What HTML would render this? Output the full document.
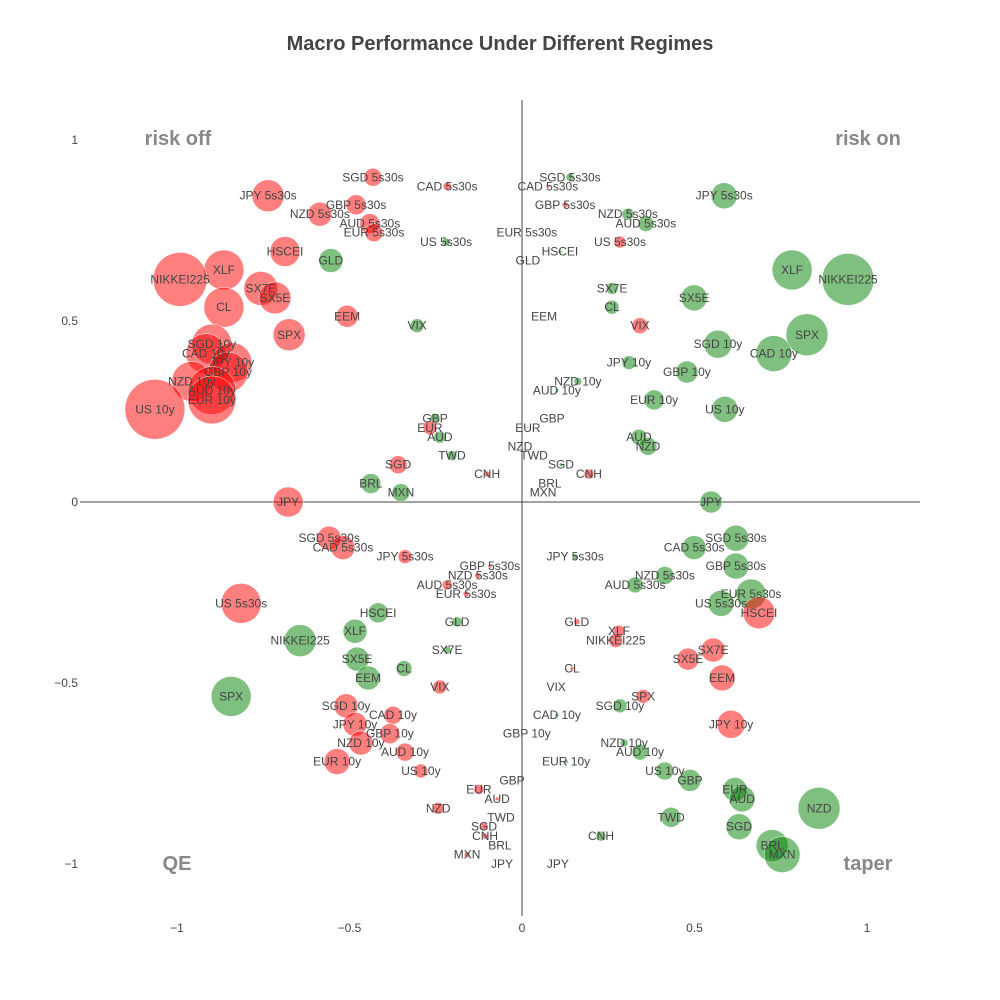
<!DOCTYPE html>
<html><head><meta charset="utf-8"><style>
body{margin:0;background:#fff}
svg{display:block;font-family:"Liberation Sans",sans-serif}
</style></head><body>
<svg id="chart" width="1000" height="1000" viewBox="0 0 1000 1000">
<rect width="1000" height="1000" fill="#fff"/>
<text x="500" y="50" text-anchor="middle" font-size="20" font-weight="bold" fill="#444">Macro Performance Under Different Regimes</text>
<g id="axes"></g>
<g id="marks"></g>
<g id="labels"></g>
<text x="178" y="145" text-anchor="middle" font-size="20" font-weight="bold" fill="#888">risk off</text>
<text x="868" y="145" text-anchor="middle" font-size="20" font-weight="bold" fill="#888">risk on</text>
<text x="177" y="870" text-anchor="middle" font-size="20" font-weight="bold" fill="#888">QE</text>
<text x="868" y="870" text-anchor="middle" font-size="20" font-weight="bold" fill="#888">taper</text>
</svg>
<script>
const labels=["SGD 5s30s","CAD 5s30s","JPY 5s30s","GBP 5s30s","NZD 5s30s","AUD 5s30s","EUR 5s30s","US 5s30s","HSCEI","GLD","XLF","NIKKEI225","SX7E","SX5E","CL","EEM","VIX","SPX","SGD 10y","CAD 10y","JPY 10y","GBP 10y","NZD 10y","AUD 10y","EUR 10y","US 10y","GBP","EUR","AUD","NZD","TWD","SGD","CNH","BRL","MXN","JPY"];
const yUpper=[0.897,0.872,0.846,0.821,0.795,0.769,0.744,0.718,0.692,0.667,0.641,0.615,0.590,0.564,0.538,0.513,0.487,0.462,0.436,0.410,0.385,0.359,0.333,0.308,0.282,0.256,0.231,0.205,0.179,0.154,0.128,0.103,0.077,0.051,0.026,0];
const yLower=[-0.100,-0.126,-0.151,-0.177,-0.203,-0.229,-0.254,-0.280,-0.306,-0.331,-0.357,-0.383,-0.409,-0.434,-0.460,-0.486,-0.511,-0.537,-0.563,-0.589,-0.614,-0.640,-0.666,-0.691,-0.717,-0.743,-0.769,-0.794,-0.820,-0.846,-0.871,-0.897,-0.923,-0.949,-0.974,-1.0];
const xRiskOff=[-0.432,-0.217,-0.736,-0.481,-0.586,-0.441,-0.429,-0.220,-0.687,-0.554,-0.864,-0.991,-0.757,-0.716,-0.864,-0.507,-0.304,-0.675,-0.899,-0.916,-0.841,-0.852,-0.957,-0.899,-0.899,-1.064,-0.252,-0.267,-0.238,-0.006,-0.203,-0.359,-0.101,-0.438,-0.351,-0.678];
const sRiskOff=[9,4,16,10,12,10,9,4,15,12,20,27,17,16,20,11,7,16,20,20,20,20,20,24,24,30,5,7,6,1,5,9,3,10,9,15];
const cRiskOff="rrrrrrrgrgrrrrrrgrrrrrrrrrgrgrgrrggr".split("");
const xRiskOn=[0.139,0.075,0.586,0.125,0.307,0.359,0.014,0.284,0.110,0.017,0.783,0.945,0.261,0.499,0.261,0.064,0.342,0.826,0.568,0.730,0.310,0.478,0.162,0.101,0.383,0.588,0.087,0.017,0.339,0.365,0.035,0.113,0.194,0.081,0.061,0.548];
const sRiskOn=[4,2,13,3,6,8,1,6,2,1,20,26,6,13,7,1,8,21,14,18,7,11,4,2,10,13,1,1,8,9,1,2,5,1,1,11];
const cRiskOn="grgrgggrggggggggrgggggggggrrggggrggg".split("");
const xQE=[-0.559,-0.519,-0.339,-0.093,-0.128,-0.217,-0.162,-0.814,-0.417,-0.188,-0.484,-0.643,-0.217,-0.478,-0.342,-0.446,-0.238,-0.843,-0.510,-0.374,-0.484,-0.383,-0.467,-0.339,-0.536,-0.293,-0.029,-0.125,-0.072,-0.243,-0.061,-0.110,-0.107,-0.064,-0.159,-0.058];
const sQE=[12,12,7,2,3,5,3,20,10,5,12,16,4,12,8,12,7,20,12,9,12,10,12,9,13,7,1,5,2,6,1,4,3,1,3,1];
const cQE="rrrrrrrrggggggggrgrrrrrrrrgrrrgrrgrg".split("");
const xTaper=[0.620,0.499,0.154,0.620,0.414,0.328,0.664,0.577,0.687,0.159,0.281,0.272,0.554,0.481,0.145,0.580,0.099,0.351,0.284,0.101,0.606,0.014,0.296,0.342,0.128,0.414,0.487,0.617,0.638,0.861,0.432,0.629,0.229,0.725,0.754,0.104];
const sTaper=[13,12,3,13,9,8,15,13,16,3,6,7,12,11,2,13,1,7,7,2,14,1,4,8,2,9,11,12,13,21,10,13,5,16,18,1];
const cTaper="ggggggggrrrrrrrrrrggrggggggggggggggg".split("");
const xTicks=[-1,-0.5,0,0.5,1];
const yTicks=[1,0.5,0,-0.5,-1];

const NS="http://www.w3.org/2000/svg";
const xs=v=>522+345*v, ys=v=>502-362*v, rs=v=>v;
const fmt=v=>v<0?"\u2212"+Math.abs(v):String(v);
function mk(tag,attrs,parent){const e=document.createElementNS(NS,tag);for(const k in attrs)e.setAttribute(k,attrs[k]);parent.appendChild(e);return e;}
const axes=document.getElementById("axes");
let l=mk("line",{x1:80,x2:920,y1:ys(0),y2:ys(0),stroke:"#444","stroke-width":1},axes);


l=mk("line",{x1:xs(0),x2:xs(0),y1:100,y2:916,stroke:"#444","stroke-width":1},axes);


xTicks.forEach(v=>{const t=mk("text",{x:xs(v),y:932,"text-anchor":"middle","font-size":12,fill:"#444"},axes);t.textContent=fmt(v);

});
yTicks.forEach(v=>{const t=mk("text",{x:78,y:ys(v)+4,"text-anchor":"end","font-size":12,fill:"#444"},axes);t.textContent=fmt(v);

});
const marks=document.getElementById("marks"), lab=document.getElementById("labels");
const series=[[xRiskOff,yUpper,sRiskOff,cRiskOff,"risk-off"],[xRiskOn,yUpper,sRiskOn,cRiskOn,"risk-on"],[xQE,yLower,sQE,cQE,"qe"],[xTaper,yLower,sTaper,cTaper,"taper"]];
series.forEach(([X,Y,S,C,name])=>{
  X.forEach((xv,i)=>{
    const c=mk("circle",{cx:xs(xv),cy:ys(Y[i]),r:rs(S[i]),fill:C[i]==="r"?"rgb(255,0,0)":"rgb(0,128,0)","fill-opacity":0.5,stroke:"#fff","stroke-width":0.5},marks);
    
    
    const t=mk("text",{x:xs(xv),y:ys(Y[i])+4,"text-anchor":"middle","font-size":12,fill:"#444"},lab);
    t.textContent=labels[i];
    
    
  });
});
</script>
</body></html>
